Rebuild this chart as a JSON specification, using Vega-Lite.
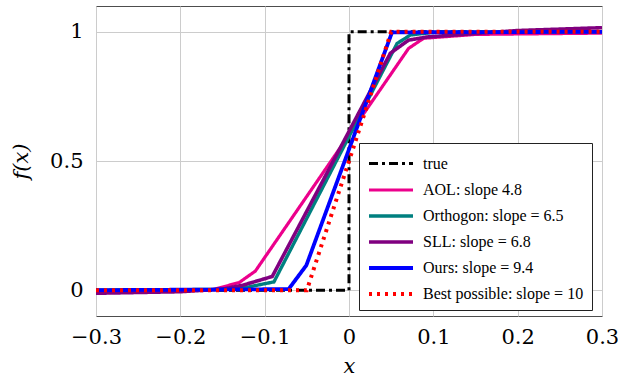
{
  "$schema": "https://vega.github.io/schema/vega-lite/v6.json",
  "width": 506,
  "height": 310,
  "autosize": {"type": "none"},
  "padding": {"left": 96, "top": 6, "right": 16, "bottom": 63},
  "background": "white",
  "config": {
    "view": {"stroke": "#4d4d4d", "strokeWidth": 1},
    "axis": {
      "labelFont": "DejaVu Serif",
      "labelFontSize": 21,
      "labelColor": "black",
      "titleFont": "DejaVu Serif",
      "titleFontSize": 21,
      "titleFontStyle": "italic",
      "titleFontWeight": "normal",
      "titleColor": "black",
      "gridColor": "#cccccc",
      "gridWidth": 1,
      "domain": false,
      "ticks": false
    }
  },
  "data": {
    "values": [
      {"s": "true", "i": 0, "x": -0.3, "y": 0},
      {"s": "true", "i": 1, "x": 0, "y": 0},
      {"s": "true", "i": 2, "x": 0, "y": 1},
      {"s": "true", "i": 3, "x": 0.3, "y": 1},
      {"s": "AOL: slope 4.8", "i": 0, "x": -0.3, "y": -0.004},
      {"s": "AOL: slope 4.8", "i": 1, "x": -0.2, "y": -0.002},
      {"s": "AOL: slope 4.8", "i": 2, "x": -0.16, "y": 0.003},
      {"s": "AOL: slope 4.8", "i": 3, "x": -0.13, "y": 0.03},
      {"s": "AOL: slope 4.8", "i": 4, "x": -0.111, "y": 0.074},
      {"s": "AOL: slope 4.8", "i": 5, "x": 0.0707, "y": 0.936},
      {"s": "AOL: slope 4.8", "i": 6, "x": 0.0885, "y": 0.975},
      {"s": "AOL: slope 4.8", "i": 7, "x": 0.15, "y": 0.99},
      {"s": "AOL: slope 4.8", "i": 8, "x": 0.3, "y": 0.995},
      {"s": "Orthogon: slope = 6.5", "i": 0, "x": -0.3, "y": 0},
      {"s": "Orthogon: slope = 6.5", "i": 1, "x": -0.15, "y": 0.003},
      {"s": "Orthogon: slope = 6.5", "i": 2, "x": -0.12, "y": 0.012},
      {"s": "Orthogon: slope = 6.5", "i": 3, "x": -0.089, "y": 0.032},
      {"s": "Orthogon: slope = 6.5", "i": 4, "x": 0.057, "y": 0.955},
      {"s": "Orthogon: slope = 6.5", "i": 5, "x": 0.073, "y": 0.988},
      {"s": "Orthogon: slope = 6.5", "i": 6, "x": 0.1, "y": 0.998},
      {"s": "Orthogon: slope = 6.5", "i": 7, "x": 0.3, "y": 1.0},
      {"s": "SLL: slope = 6.8", "i": 0, "x": -0.3, "y": -0.012},
      {"s": "SLL: slope = 6.8", "i": 1, "x": -0.2, "y": -0.006},
      {"s": "SLL: slope = 6.8", "i": 2, "x": -0.15, "y": 0.004},
      {"s": "SLL: slope = 6.8", "i": 3, "x": -0.125, "y": 0.02},
      {"s": "SLL: slope = 6.8", "i": 4, "x": -0.091, "y": 0.053},
      {"s": "SLL: slope = 6.8", "i": 5, "x": 0.049, "y": 0.917},
      {"s": "SLL: slope = 6.8", "i": 6, "x": 0.0707, "y": 0.968},
      {"s": "SLL: slope = 6.8", "i": 7, "x": 0.0925, "y": 0.98},
      {"s": "SLL: slope = 6.8", "i": 8, "x": 0.2, "y": 1.005},
      {"s": "SLL: slope = 6.8", "i": 9, "x": 0.3, "y": 1.016},
      {"s": "Ours: slope = 9.4", "i": 0, "x": -0.3, "y": 0},
      {"s": "Ours: slope = 9.4", "i": 1, "x": -0.0716, "y": 0.004},
      {"s": "Ours: slope = 9.4", "i": 2, "x": -0.0506, "y": 0.096},
      {"s": "Ours: slope = 9.4", "i": 3, "x": 0.051, "y": 0.998},
      {"s": "Ours: slope = 9.4", "i": 4, "x": 0.3, "y": 1.0},
      {"s": "Best possible: slope = 10", "i": 0, "x": -0.3, "y": 0},
      {"s": "Best possible: slope = 10", "i": 1, "x": -0.05, "y": 0},
      {"s": "Best possible: slope = 10", "i": 2, "x": 0.05, "y": 1},
      {"s": "Best possible: slope = 10", "i": 3, "x": 0.3, "y": 1}
    ]
  },
  "mark": {"type": "line", "clip": true, "strokeCap": "butt", "strokeJoin": "miter"},
  "encoding": {
    "x": {
      "field": "x", "type": "quantitative",
      "scale": {"domain": [-0.3, 0.3], "nice": false, "zero": false},
      "axis": {"values": [-0.3, -0.2, -0.1, 0, 0.1, 0.2, 0.3], "format": "~g", "title": "x", "labelPadding": 10, "titlePadding": 8, "labelFlush": false}
    },
    "y": {
      "field": "y", "type": "quantitative",
      "scale": {"domain": [-0.1, 1.1], "nice": false, "zero": false},
      "axis": {"values": [0, 0.5, 1], "format": "~g", "title": "f(x)", "labelPadding": 13, "titlePadding": 18}
    },
    "order": {"field": "i", "type": "quantitative"},
    "color": {
      "field": "s", "type": "nominal", "title": null,
      "scale": {
        "domain": ["true", "AOL: slope 4.8", "Orthogon: slope = 6.5", "SLL: slope = 6.8", "Ours: slope = 9.4", "Best possible: slope = 10"],
        "range": ["#000000", "#EC008C", "#008080", "#800080", "#0000FF", "#FF0000"]
      },
      "legend": {
        "orient": "none",
        "legendX": 263,
        "legendY": 137,
        "symbolType": "M-2,0H2",
        "symbolSize": 484,
        "symbolOffset": 11,
        "symbolStrokeWidth": 4,
        "labelFont": "Liberation Serif",
        "labelFontSize": 16,
        "labelColor": "black",
        "labelLimit": 300,
        "labelOffset": 19,
        "rowPadding": 5,
        "padding": 8,
        "strokeColor": "#222222",
        "fillColor": "white",
        "cornerRadius": 0
      }
    },
    "strokeDash": {
      "field": "s", "type": "nominal", "title": null,
      "scale": {
        "domain": ["true", "AOL: slope 4.8", "Orthogon: slope = 6.5", "SLL: slope = 6.8", "Ours: slope = 9.4", "Best possible: slope = 10"],
        "range": [[9, 4, 3, 4], [1, 0], [1, 0], [1, 0], [1, 0], [3, 5]]
      }
    },
    "strokeWidth": {
      "field": "s", "type": "nominal", "title": null,
      "scale": {
        "domain": ["true", "AOL: slope 4.8", "Orthogon: slope = 6.5", "SLL: slope = 6.8", "Ours: slope = 9.4", "Best possible: slope = 10"],
        "range": [3, 4, 4, 4.5, 4, 3]
      }
    }
  }
}
